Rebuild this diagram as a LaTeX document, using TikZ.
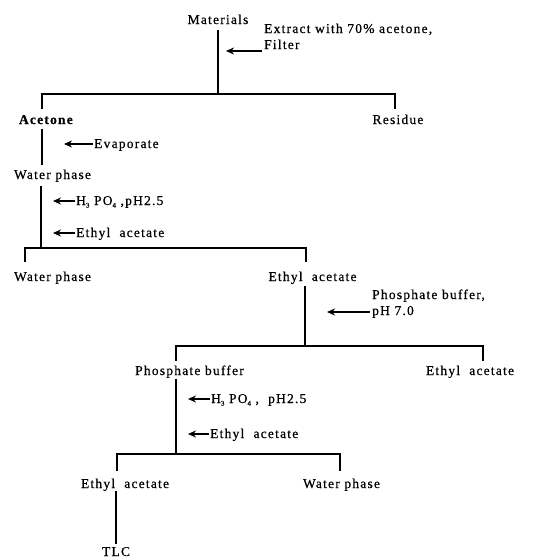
\documentclass[tikz,border=0pt]{standalone}
\usepackage{fontspec}
\setmainfont{Liberation Serif}[LetterSpace=9,FakeBold=0.6]
\usetikzlibrary{arrows.meta}
\newcommand{\lowsub}[1]{\raisebox{-2.5pt}{\fontsize{7}{7}\selectfont #1}}
\begin{document}
\begin{tikzpicture}[x=1pt,y=-1pt,
  lbl/.style={inner sep=0pt,font=\fontsize{13.5}{16}\selectfont,anchor=base},
  note/.style={inner sep=0pt,font=\fontsize{13.5}{16}\selectfont,anchor=base west,align=left},
  ln/.style={line width=1.3pt,line cap=rect},
  arr/.style={line width=1.4pt,-{Stealth[length=8pt,width=7pt]}}]
\useasboundingbox (0,0) rectangle (551,558);
% texts
\node[lbl] (mat) at (218,24) {Materials};
\node[lbl] (acet) at (46.5,124) {\textbf{Acetone}};
\node[lbl] (res) at (398,124) {Residue};
\node[lbl] (wp1) at (52.5,179) {Water\ phase};
\node[lbl] (wp2) at (52.5,281) {Water\ phase};
\node[lbl] (ea1) at (312.5,281) {Ethyl\ \ acetate};
\node[lbl] (pb) at (189.5,375) {Phosphate buffer};
\node[lbl] (ea2) at (470,375) {Ethyl\ \ acetate};
\node[lbl] (ea3) at (125,488) {Ethyl\ \ acetate};
\node[lbl] (wp3) at (341.5,488) {Water\ phase};
\node[lbl] (tlc) at (116,556) {TLC};
% reagent notes
\node[note] (n1) at (264,49) {Extract\ with\ 70\%\ acetone,\\Filter};
\node[note] (n2) at (94,148) {Evaporate};
\node[note] (n3) at (76,205) {H\lowsub{3}\ PO\lowsub{4}\ ,pH2.5};
\node[note] (n4) at (76,237) {Ethyl\ \ acetate};
\node[note] (n5) at (372,315) {Phosphate buffer,\\pH 7.0};
\node[note] (n6) at (211,403) {H\lowsub{3}\ PO\lowsub{4}\ ,\ \ pH2.5};
\node[note] (n7) at (210,438) {Ethyl\ \ acetate};
% coordinates
\coordinate (a0) at (218,31);
\coordinate (a1) at (218,94);
\coordinate (aL) at (42,94);
\coordinate (aR) at (395,94);
\coordinate (aLd) at (42,108);
\coordinate (aRd) at (395,108);
\coordinate (b0) at (42,130);
\coordinate (b1) at (42,164);
\coordinate (c0) at (41,187);
\coordinate (c1) at (41,248);
\coordinate (cL) at (25,248);
\coordinate (cR) at (306,248);
\coordinate (cLd) at (25,261);
\coordinate (cRd) at (306,261);
\coordinate (d0) at (305,287);
\coordinate (d1) at (305,346);
\coordinate (dL) at (176,346);
\coordinate (dR) at (483,346);
\coordinate (dLd) at (176,360);
\coordinate (dRd) at (483,360);
\coordinate (e0) at (176,380);
\coordinate (e1) at (176,454);
\coordinate (eL) at (117,454);
\coordinate (eR) at (340,454);
\coordinate (eLd) at (117,470);
\coordinate (eRd) at (340,470);
\coordinate (f0) at (116,492);
\coordinate (f1) at (116,543);
% arrow coordinates
\coordinate (t1) at (262,51); \coordinate (h1) at (226,51);
\coordinate (t2) at (93,144); \coordinate (h2) at (64,144);
\coordinate (t3) at (75,201); \coordinate (h3) at (53,201);
\coordinate (t4) at (75,233); \coordinate (h4) at (53,233);
\coordinate (t5) at (370,312); \coordinate (h5) at (327,312);
\coordinate (t6) at (210,399); \coordinate (h6) at (188,399);
\coordinate (t7) at (209,434); \coordinate (h7) at (188,434);
% connectors
\draw[ln] (a0) -- (a1);
\draw[ln] (aLd) -- (aL) -- (aR) -- (aRd);
\draw[ln] (b0) -- (b1);
\draw[ln] (c0) -- (c1);
\draw[ln] (cLd) -- (cL) -- (cR) -- (cRd);
\draw[ln] (d0) -- (d1);
\draw[ln] (dLd) -- (dL) -- (dR) -- (dRd);
\draw[ln] (e0) -- (e1);
\draw[ln] (eLd) -- (eL) -- (eR) -- (eRd);
\draw[ln] (f0) -- (f1);
\draw[arr] (t1) -- (h1);
\draw[arr] (t2) -- (h2);
\draw[arr] (t3) -- (h3);
\draw[arr] (t4) -- (h4);
\draw[arr] (t5) -- (h5);
\draw[arr] (t6) -- (h6);
\draw[arr] (t7) -- (h7);
\end{tikzpicture}
\end{document}
